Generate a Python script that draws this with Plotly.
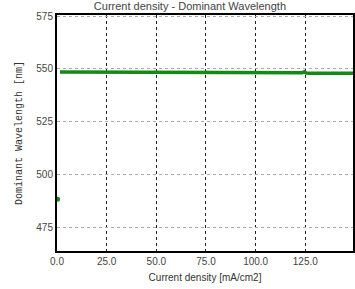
import plotly.graph_objects as go

# Data
first_x = [0.3]
first_y = [488.5]

curr_density = [1.5, 3, 5, 10, 15, 20, 25, 30, 35, 40, 45, 50, 55, 60, 65, 70, 75, 80,
                85, 90, 95, 100, 105, 110, 115, 120, 122, 123.5, 124.5, 125.5, 127, 130,
                135, 140, 145, 149]
dom_wl = [548.6, 548.6, 548.6, 548.6, 548.6, 548.6, 548.6, 548.6, 548.6, 548.6, 548.6,
          548.6, 548.6, 548.6, 548.6, 548.6, 548.6, 548.6, 548.6, 548.6, 548.6, 548.6,
          548.6, 548.6, 548.6, 548.5, 548.5, 548.2, 548.7, 548.1, 548.0, 548.0, 548.0,
          548.0, 548.0, 548.0]

x_ticks = [0, 25, 50, 75, 100, 125]
y_ticks = [475, 500, 525, 550, 575]

green = "#138a13"

fig = go.Figure()
fig.add_trace(go.Scatter(x=first_x, y=first_y, mode="markers",
                         marker=dict(color=green, size=5), showlegend=False))
fig.add_trace(go.Scatter(x=curr_density, y=dom_wl, mode="lines",
                         line=dict(color=green, width=3.5), showlegend=False))

fig.update_layout(
    width=355, height=289,
    margin=dict(l=57, r=2, t=15, b=38, autoexpand=False),
    paper_bgcolor="white", plot_bgcolor="white",
    font=dict(family="Liberation Sans, Arial, sans-serif", size=10, color="#444"),
    title=dict(text="Current density - Dominant Wavelength", x=0.535, xanchor="center",
               yref="container", y=0.992, yanchor="top", font=dict(size=11, color="#444")),
)
fig.update_xaxes(
    range=[0, 149], tickvals=x_ticks, tickformat=".1f",
    showgrid=True, gridcolor="#222", griddash="dot", gridwidth=1,
    showline=True, linecolor="black", linewidth=2, mirror=True,
    ticks="", zeroline=False, automargin=False,
    title=dict(text="Current density [mA/cm2]", font=dict(size=10, color="#333"), standoff=8),
)
fig.update_yaxes(
    range=[464, 575.5], tickvals=y_ticks,
    showgrid=True, gridcolor="#aaa", griddash="dot", gridwidth=1,
    showline=True, linecolor="black", linewidth=2, mirror=True,
    ticks="", zeroline=False, automargin=False,
    title=dict(text="Dominant Wavelength [nm]",
               font=dict(family="Liberation Mono, Courier New, monospace", size=10, color="#333"),
               standoff=12),
)

fig.write_html("out.html", config={"displayModeBar": False},
               post_script="document.body.style.margin='0';")
